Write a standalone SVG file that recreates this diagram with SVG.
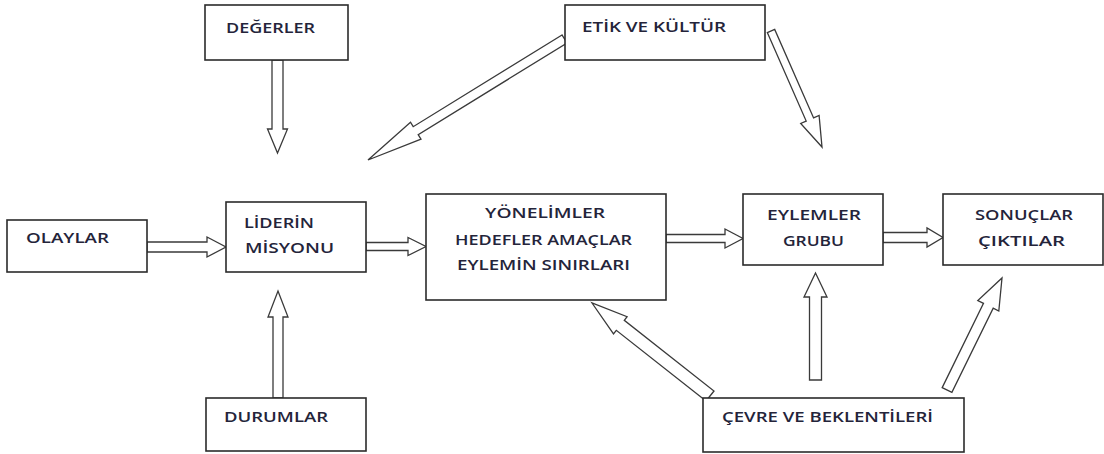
<svg xmlns="http://www.w3.org/2000/svg" width="1104" height="454" viewBox="0 0 1104 454">
<style>
.box{fill:#fff;stroke:#2b2b2b;stroke-width:1.6}
.t{font-family:"Open Sans","Liberation Sans",sans-serif;font-size:15px;font-weight:600;fill:#24243a}
.ar{fill:#fff;stroke:#3a3a3a;stroke-width:1.3;stroke-linejoin:miter}
</style>
<rect width="1104" height="454" fill="#fff"/>
<g id="connectors">
<polygon class="ar" points="272,60 272,129 267.5,129 277.5,153 287.5,129 283,129 283,60"/>
<polygon class="ar" points="273,398 273,317 268,317 278,291 288,317 283,317 283,398"/>
<polygon class="ar" points="147,242 207,242 207,237 226,247 207,257 207,252 147,252"/>
<polygon class="ar" points="366,242.5 408,242.5 408,237.5 426,246.5 408,255.5 408,250.5 366,250.5"/>
<polygon class="ar" points="666,234.5 725,234.5 725,229 743,238.5 725,248 725,242.5 666,242.5"/>
<polygon class="ar" points="883,232.5 927,232.5 927,228 943,237.5 927,247 927,242.5 883,242.5"/>
<polygon class="ar" points="809.5,380 809.5,297 804,297 815.5,273 827,297 821.5,297 821.5,380"/>
<polygon class="ar" points="942.2,387.6 983.5,303.4 977.8,300.6 1002,278 998.8,311 993.2,308.2 951.9,392.4"/>
<polygon class="ar" points="706,401 616.3,330.3 613.5,333.9 592,303 627.1,316.7 624.3,320.3 714,391"/>
<polygon class="ar" points="562,35 413.2,126.7 410.5,122.2 368,160 421,139.2 418.2,134.7 567,43"/>
<polygon class="ar" points="767.3,32.6 806.2,121.1 800.7,123.5 822,147 819.1,115.5 813.6,117.9 774.7,29.4"/>
</g>
<g id="degerler">
<rect class="box" x="205" y="5" width="143" height="55"/>
<text class="t" x="226" y="33" textLength="89" lengthAdjust="spacingAndGlyphs">DEĞERLER</text>
</g>
<g id="etik">
<rect class="box" x="565" y="5" width="200" height="55"/>
<text class="t" x="582" y="32" textLength="144" lengthAdjust="spacingAndGlyphs">ETİK VE KÜLTÜR</text>
</g>
<g id="olaylar">
<rect class="box" x="7" y="220" width="140" height="52"/>
<text class="t" x="26" y="243" textLength="83" lengthAdjust="spacingAndGlyphs">OLAYLAR</text>
</g>
<g id="liderin">
<rect class="box" x="226" y="202" width="140" height="70"/>
<text class="t" x="244" y="228" textLength="70" lengthAdjust="spacingAndGlyphs">LİDERİN</text>
<text class="t" x="245" y="253" textLength="89" lengthAdjust="spacingAndGlyphs">MİSYONU</text>
</g>
<g id="durumlar">
<rect class="box" x="206" y="398" width="160" height="53"/>
<text class="t" x="224" y="422" textLength="104" lengthAdjust="spacingAndGlyphs">DURUMLAR</text>
</g>
<g id="yonelimler">
<rect class="box" x="426" y="194" width="240" height="106"/>
<text class="t" x="485" y="218" textLength="120" lengthAdjust="spacingAndGlyphs">YÖNELİMLER</text>
<text class="t" x="455" y="245" textLength="177" lengthAdjust="spacingAndGlyphs">HEDEFLER AMAÇLAR</text>
<text class="t" x="457" y="270" textLength="173" lengthAdjust="spacingAndGlyphs">EYLEMİN SINIRLARI</text>
</g>
<g id="eylemler">
<rect class="box" x="743" y="194" width="140" height="71"/>
<text class="t" x="767" y="220" textLength="94" lengthAdjust="spacingAndGlyphs">EYLEMLER</text>
<text class="t" x="783" y="246" textLength="61" lengthAdjust="spacingAndGlyphs">GRUBU</text>
</g>
<g id="sonuclar">
<rect class="box" x="943" y="194" width="160" height="71"/>
<text class="t" x="975" y="220" textLength="98" lengthAdjust="spacingAndGlyphs">SONUÇLAR</text>
<text class="t" x="978" y="246" textLength="87" lengthAdjust="spacingAndGlyphs">ÇIKTILAR</text>
</g>
<g id="cevre">
<rect class="box" x="703" y="398" width="261" height="54"/>
<text class="t" x="722" y="422" textLength="211" lengthAdjust="spacingAndGlyphs">ÇEVRE VE BEKLENTİLERİ</text>
</g>
</svg>
